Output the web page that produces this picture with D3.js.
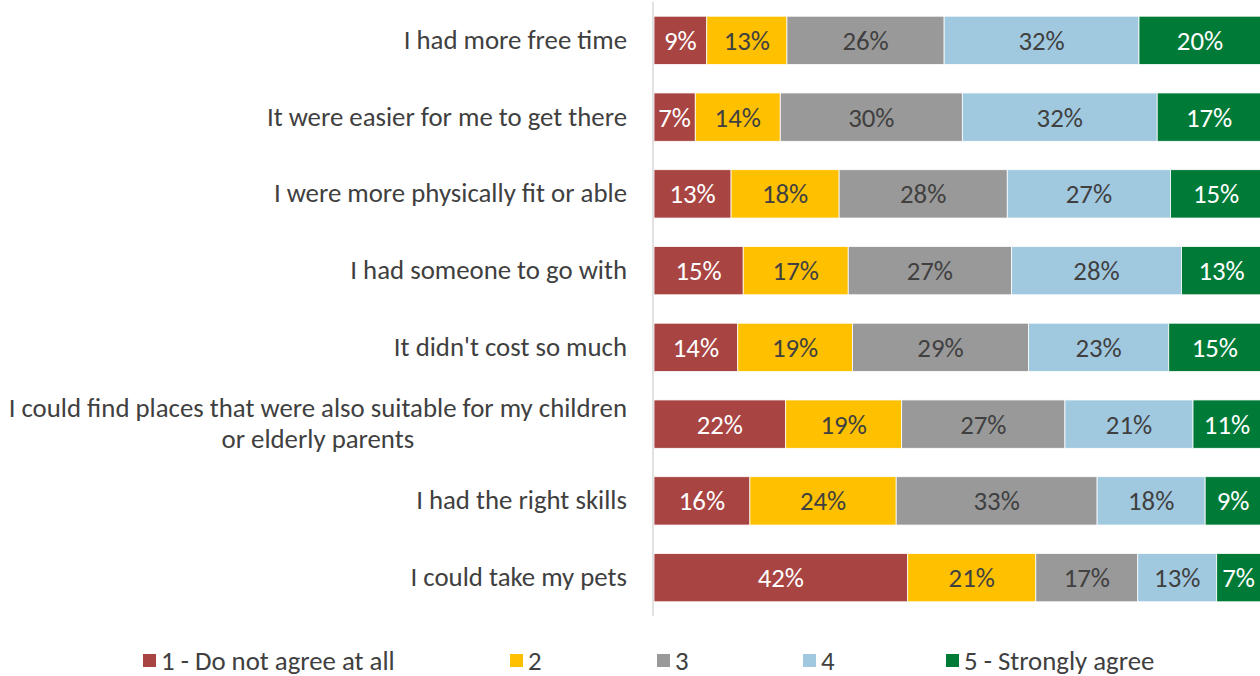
<!DOCTYPE html>
<html>
<head>
<meta charset="utf-8">
<script src="https://cdn.jsdelivr.net/npm/d3@7"></script>
<style>
  html, body { margin: 0; padding: 0; background: #fff; }
  svg { display: block; }
  text { font-family: Carlito, Lato, "Open Sans", sans-serif; }
</style>
</head>
<body>
<svg id="chart" width="1260" height="676"></svg>
<script>
// ---- data ----
const categories = [
  "I had more free time",
  "It were easier for me to get there",
  "I were more physically fit or able",
  "I had someone to go with",
  "It didn't cost so much",
  "I could find places that were also suitable for my children or elderly parents",
  "I had the right skills",
  "I could take my pets"
];
const categoryLines = [
  ["I had more free time"],
  ["It were easier for me to get there"],
  ["I were more physically fit or able"],
  ["I had someone to go with"],
  ["It didn't cost so much"],
  ["I could find places that were also suitable for my children", "or elderly parents"],
  ["I had the right skills"],
  ["I could take my pets"]
];
const seriesNames = ["1 - Do not agree at all", "2", "3", "4", "5 - Strongly agree"];
const s1 = [8.7, 6.8, 12.7, 14.7, 13.8, 21.7, 15.8, 41.8];
const s2 = [13.2, 14.0, 17.8, 17.3, 18.9, 19.1, 24.1, 21.1];
const s3 = [25.9, 30.0, 27.7, 26.9, 29.0, 26.9, 33.1, 16.8];
const s4 = [32.1, 32.1, 26.9, 28.0, 23.1, 21.1, 17.8, 13.0];
const s5 = [20.1, 17.1, 15.0, 13.2, 15.2, 11.2, 9.2, 7.2];
const seriesValues = [s1, s2, s3, s4, s5];

// ---- styles ----
const colors = ["#A84442", "#FFC000", "#999999", "#A0C9E0", "#007A37"];
const labelColors = ["#ffffff", "#404040", "#404040", "#404040", "#ffffff"];
const FONT = "26.8px";

const svg = d3.select("#chart");
const plot = { left: 654, right: 1261, top: 2, bottom: 616 };

const x = d3.scaleLinear().domain([0, 100]).range([plot.left, plot.right]);
const y = d3.scaleBand().domain(categories).range([plot.top, plot.bottom])
  .paddingInner(0.37).paddingOuter(0.185);

const rows = categories.map((c, i) => {
  const r = { category: c };
  seriesNames.forEach((s, j) => r[s] = seriesValues[j][i]);
  return r;
});
const stacked = d3.stack().keys(seriesNames)(rows);

// bars
const groups = svg.append("g").selectAll("g").data(stacked).join("g")
  .attr("fill", (d, i) => colors[i]);
groups.selectAll("rect").data(d => d).join("rect")
  .attr("x", d => x(d[0]))
  .attr("y", d => y(d.data.category))
  .attr("width", d => x(d[1]) - x(d[0]))
  .attr("height", y.bandwidth())
  .attr("stroke", "#ffffff")
  .attr("stroke-width", 0.8);

// data labels
stacked.forEach((ser, i) => {
  svg.append("g").selectAll("text").data(ser).join("text")
    .attr("x", d => (x(d[0]) + x(d[1])) / 2)
    .attr("y", d => y(d.data.category) + y.bandwidth() / 2)
    .attr("dy", "0.35em")
    .attr("text-anchor", "middle")
    .attr("fill", labelColors[i])
    .style("font-size", FONT)
    .text(d => Math.round(d[1] - d[0]) + "%");
});

// axis line
const yAxis = d3.axisLeft(y).tickSize(0).tickFormat("");
const ax = svg.append("g").attr("transform", `translate(${plot.left - 1},0)`).call(yAxis);
ax.select(".domain").attr("stroke", "#d9d9d9").attr("stroke-width", 1.5)
  .attr("d", `M0,${plot.top}V${plot.bottom}`);

// category labels
const lineH = 31;
svg.append("g").selectAll("text").data(categories).join("text")
  .attr("text-anchor", "middle")
  .attr("fill", "#404040")
  .style("font-size", FONT)
  .each(function(c, i) {
    const lines = categoryLines[i];
    const t = d3.select(this);
    const cy = y(c) + y.bandwidth() / 2 - 1;
    lines.forEach((ln, k) => {
      t.append("tspan").text(ln)
        .attr("y", cy + (k - (lines.length - 1) / 2) * lineH)
        .attr("dy", "0.35em");
    });
    // right-align block, center lines within it
    const w = d3.max(t.selectAll("tspan").nodes(), n => n.getComputedTextLength());
    t.selectAll("tspan").attr("x", 627 - w / 2);
  });

// legend
const legendX = [143, 510, 657, 803, 946];
const lg = svg.append("g").selectAll("g").data(seriesNames).join("g")
  .attr("transform", (d, i) => `translate(${legendX[i]},654)`);
lg.append("rect").attr("width", 13).attr("height", 13).attr("fill", (d, i) => colors[i]);
lg.append("text").attr("x", 18).attr("y", 7).attr("dy", "0.35em")
  .attr("fill", "#404040").style("font-size", FONT).text(d => d);
</script>
</body>
</html>
